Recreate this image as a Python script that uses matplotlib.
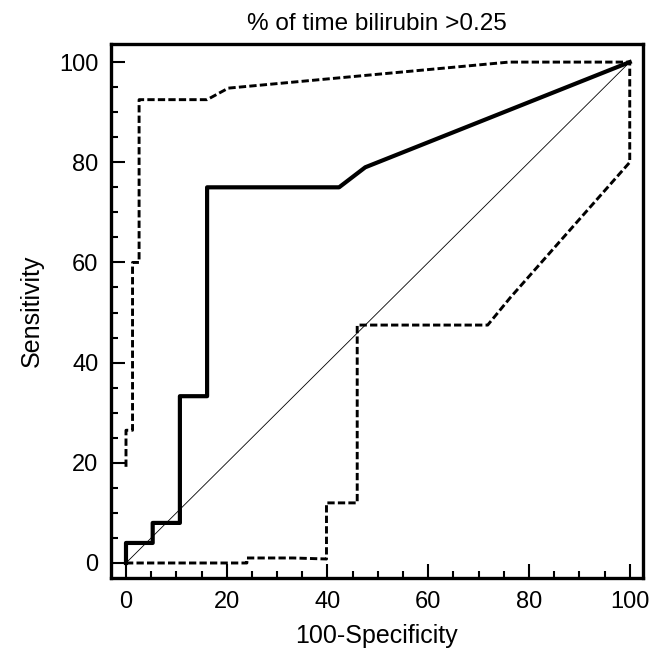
import matplotlib
matplotlib.use('Agg')
import matplotlib.pyplot as plt
from matplotlib.ticker import MultipleLocator

plt.rcParams['font.family'] = ['Liberation Sans', 'DejaVu Sans']

# ROC curve: 100-specificity vs sensitivity
roc_x = [0, 0, 5.3, 5.3, 10.7, 10.7, 16.1, 16.1, 42.3, 47.5, 100]
roc_y = [0, 4, 4, 8, 8, 33.3, 33.3, 75, 75, 79, 100]

# upper confidence bound
upper_x = [0, 0, 1.3, 1.3, 2.6, 2.6, 16.1, 20.3, 76, 100]
upper_y = [19.2, 26.5, 26.5, 60, 60, 92.5, 92.5, 94.8, 100, 100]

# lower confidence bound
lower_x = [0, 24, 24, 33.2, 39.8, 39.8, 45.9, 45.9, 71.8, 76.3, 100, 100]
lower_y = [0, 0, 1.0, 1.0, 0.8, 12, 12, 47.5, 47.5, 53, 80, 100]

title = '% of time bilirubin >0.25'

fig = plt.figure(figsize=(6.6, 6.48), dpi=100)
ax = fig.add_axes([0.168, 0.108, 0.806, 0.824])

ax.plot([0, 100], [0, 100], color='black', lw=0.6)
ax.plot(upper_x, upper_y, color='black', lw=2.1, ls=(0, (2.5, 1.1)))
ax.plot(lower_x, lower_y, color='black', lw=2.1, ls=(0, (2.5, 1.1)))
ax.plot(roc_x, roc_y, color='black', lw=3)

ax.set_xlim(-3, 102.6)
ax.set_ylim(-3, 103.6)

ax.xaxis.set_major_locator(MultipleLocator(20))
ax.xaxis.set_minor_locator(MultipleLocator(5))
ax.yaxis.set_major_locator(MultipleLocator(20))
ax.yaxis.set_minor_locator(MultipleLocator(5))
ax.tick_params(which='both', direction='in', top=False, right=False,
               width=1.5, labelsize=17)
ax.tick_params(which='major', length=10, pad=9)
ax.tick_params(which='minor', length=5)
for s in ax.spines.values():
    s.set_linewidth(2.4)

ax.set_title(title, fontsize=17.5, pad=10)
ax.set_xlabel('100-Specificity', fontsize=18, labelpad=8)
ax.set_ylabel('Sensitivity', fontsize=18, labelpad=11)

fig.savefig('out.png', dpi=100)
